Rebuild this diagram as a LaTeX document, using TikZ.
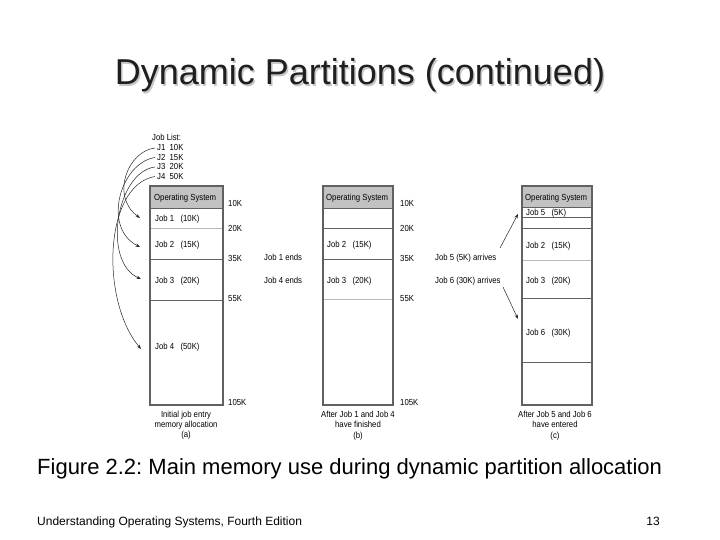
\documentclass[tikz,border=0pt]{standalone}
\usepackage{fontspec}
\setmainfont{Liberation Sans}
\newfontfamily\condsf{Liberation Sans}[FakeStretch=0.88]
\usetikzlibrary{arrows.meta}
\begin{document}
\frenchspacing
\begin{tikzpicture}[x=1pt,y=-1pt,
  mem/.style={draw=black!62, line width=1.1pt},
  osfill/.style={fill=black!24},
  sep/.style={draw=black!62, line width=0.8pt},
  lsep/.style={draw=black!28, line width=0.8pt},
  lbl/.style={font=\condsf\fontsize{8.8}{9}\selectfont, inner sep=0pt, anchor=base west},
  boxcap/.style={font=\condsf\fontsize{8.8}{10.3}\selectfont, align=center, inner sep=0pt, anchor=north},
  arr/.style={-{Stealth[length=4.5pt,width=3.2pt]}, line width=0.5pt, black!85},
  ttl/.style={font=\fontsize{36}{40}\selectfont, inner sep=0pt, anchor=base}
]
\useasboundingbox[fill=white] (0,0) rectangle (720,540);

% title with shadow
\node[ttl, text=black!22] (titleshadow) at (361.5,86.5) {Dynamic Partitions (continued)};
\node[ttl, text=black!88] (title) at (360,85) {Dynamic Partitions (continued)};

% job list
\node[lbl] (jl) at (152,141) {Job List:};
\node[lbl] (j1) at (157,151) {J1~~10K};
\node[lbl] (j2) at (157,160.5) {J2~~15K};
\node[lbl] (j3) at (157,170) {J3~~20K};
\node[lbl] (j4) at (157,179.5) {J4~~50K};

% ---- box (a)
\fill[osfill] (150,186) rectangle (223,208);
\draw[sep] (150,208) -- (223,208);
\draw[lsep] (150,228) -- (223,228);
\draw[sep] (150,259) -- (223,259);
\draw[sep] (150,300) -- (223,300);
\draw[mem] (150,186) rectangle (223,405);
\node[lbl] (osa) at (154,200.5) {Operating System};
\node[lbl] (a1) at (155,221.5) {Job 1~~~(10K)};
\node[lbl] (a2) at (155,247.5) {Job 2~~~(15K)};
\node[lbl] (a3) at (155,283) {Job 3~~~(20K)};
\node[lbl] (a4) at (155,349) {Job 4~~~(50K)};
\node[lbl] (ka1) at (228,207) {10K};
\node[lbl] (ka2) at (228,231) {20K};
\node[lbl] (ka3) at (228,261) {35K};
\node[lbl] (ka4) at (228,301) {55K};
\node[lbl] (ka5) at (228,405) {105K};
\node[boxcap] (capa) at (186,410.5) {Initial job entry\\memory allocation\\(a)};

% arrows from job list
\coordinate (e1) at (140,218);
\coordinate (e2) at (140,247);
\coordinate (e3) at (141,279);
\coordinate (e4) at (141,349);
\draw[arr] ([xshift=-2pt]j1.west) .. controls (128,151) and (110,196) .. (e1);
\draw[arr] ([xshift=-2pt]j2.west) .. controls (120,163) and (102,228) .. (e2);
\draw[arr] ([xshift=-2pt]j3.west) .. controls (116,172) and (102,262) .. (e3);
\draw[arr] ([xshift=-2pt]j4.west) .. controls (104,185) and (100,300) .. (e4);

% ---- box (b)
\fill[osfill] (323,186) rectangle (393,208);
\draw[sep] (323,208) -- (393,208);
\draw[sep] (323,228) -- (393,228);
\draw[sep] (323,259) -- (393,259);
\draw[lsep] (323,299) -- (393,299);
\draw[mem] (323,186) rectangle (393,405);
\node[lbl] (osb) at (326,200.5) {Operating System};
\node[lbl] (b2) at (327,247.5) {Job 2~~~(15K)};
\node[lbl] (b3) at (327,283) {Job 3~~~(20K)};
\node[lbl] (kb1) at (400,207) {10K};
\node[lbl] (kb2) at (400,231) {20K};
\node[lbl] (kb3) at (400,261) {35K};
\node[lbl] (kb4) at (400,301) {55K};
\node[lbl] (kb5) at (400,405) {105K};
\node[boxcap] (capb) at (358,411) {After Job 1 and Job 4\\have finished\\(b)};

\node[lbl] (end1) at (264,260) {Job 1 ends};
\node[lbl] (end4) at (264,283) {Job 4 ends};

% ---- box (c)
\fill[osfill] (522,186) rectangle (592,207);
\draw[sep] (522,207) -- (592,207);
\draw[sep] (522,217) -- (592,217);
\draw[sep] (522,228) -- (592,228);
\draw[lsep] (522,260) -- (592,260);
\draw[sep] (522,298) -- (592,298);
\draw[sep] (522,362) -- (592,362);
\draw[mem] (522,186) rectangle (592,405);
\node[lbl] (osc) at (525,200.5) {Operating System};
\node[lbl] (c5) at (526,215) {Job 5~~~(5K)};
\node[lbl] (c2) at (526,248) {Job 2~~~(15K)};
\node[lbl] (c3) at (526,283) {Job 3~~~(20K)};
\node[lbl] (c6) at (526,335) {Job 6~~~(30K)};
\node[boxcap] (capc) at (555,411) {After Job 5 and Job 6\\have entered\\(c)};

\node[lbl] (arr5) at (435,260) {Job 5 (5K) arrives};
\node[lbl] (arr6) at (435,283) {Job 6 (30K) arrives};
\coordinate (t5) at (518,214);
\coordinate (t6) at (518,319);
\draw[arr] (500,248) -- (t5);
\draw[arr] (503,287) -- (t6);

% caption and footer
\node[font=\fontsize{22}{24}\selectfont, inner sep=0pt, anchor=base west] (fig) at (37,474) {Figure 2.2: Main memory use during dynamic partition allocation};
\node[font=\fontsize{12}{14}\selectfont, inner sep=0pt, anchor=base west] (foot) at (37,525) {Understanding Operating Systems, Fourth Edition};
\node[font=\fontsize{12}{14}\selectfont, inner sep=0pt, anchor=base east] (page) at (660,525) {13};
\end{tikzpicture}
\end{document}
